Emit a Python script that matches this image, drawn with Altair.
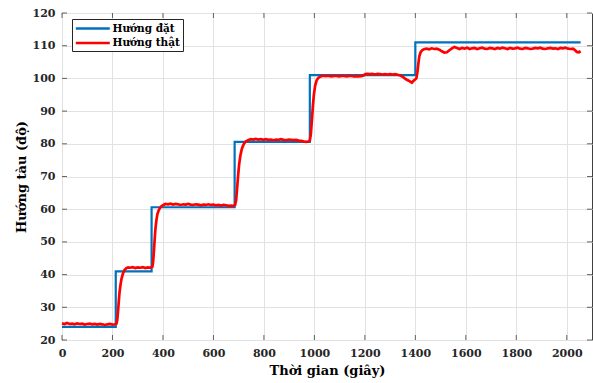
import altair as alt
import pandas as pd

# ---------------- data ----------------
X_TICKS = [0, 200, 400, 600, 800, 1000, 1200, 1400, 1600, 1800, 2000]
Y_TICKS = [20, 30, 40, 50, 60, 70, 80, 90, 100, 110, 120]

SERIES = ["Hướng đặt", "Hướng thật"]
COLORS = ["#0072BD", "#FF0000"]

# set-point heading (step signal)
SET_T = [0, 213, 355, 684, 982, 1400, 2055]
SET_V = [24.0, 41.0, 60.6, 80.6, 101.0, 111.0, 111.0]

# actual heading
ACT_T = [
    0, 10, 20, 30, 40, 50, 60, 70, 80, 90, 100, 110, 120, 130, 140, 150, 160, 170, 180, 190, 200, 210, 216,
    219, 222, 225, 228, 232, 236, 241, 247, 254, 262, 270, 280, 290, 300, 310, 320, 330, 340, 350, 358,
    361, 364, 367, 370, 374, 378, 384, 391, 400, 410, 420, 430, 440, 450, 460, 470, 480, 490, 500, 510,
    520, 530, 540, 550, 560, 570, 580, 590, 600, 610, 620, 630, 640, 650, 660, 670, 680, 686,
    690, 694, 698, 702, 707, 713, 720, 728, 737, 748, 758, 768, 778, 788, 798, 808, 818, 828, 838, 848,
    858, 868, 878, 888, 898, 908, 918, 928, 938, 948, 958, 968, 976, 982,
    986, 990, 994, 998, 1003, 1009, 1016, 1025, 1035, 1045, 1055, 1065, 1075, 1085, 1095, 1105, 1115,
    1125, 1135, 1145, 1155, 1165, 1175, 1185, 1195, 1202, 1210, 1220, 1230, 1240, 1250, 1260, 1270,
    1280, 1290, 1300, 1310, 1320, 1330, 1340, 1350, 1358, 1366, 1374, 1380, 1386, 1392, 1398, 1404,
    1408, 1412, 1416, 1421, 1428, 1436, 1445, 1455, 1465, 1475, 1485, 1495, 1505, 1515, 1525, 1535,
    1545, 1555, 1565, 1575, 1585, 1595, 1605, 1615, 1625, 1635, 1645, 1655, 1665, 1675, 1685, 1695,
    1705, 1715, 1725, 1735, 1745, 1755, 1765, 1775, 1785, 1795, 1805, 1815, 1825, 1835, 1845, 1855,
    1865, 1875, 1885, 1895, 1905, 1915, 1925, 1935, 1945, 1955, 1965, 1975, 1985, 1995, 2005, 2015,
    2025, 2032, 2040, 2048, 2055,
]
ACT_V = [
    25.1, 24.9, 25.2, 24.9, 25.0, 24.8, 25.1, 24.9, 25.0, 24.7, 24.9, 25.0, 24.8, 24.9, 24.7, 24.9, 24.8, 24.6, 24.8, 24.9, 24.7, 24.8, 25.0,
    26.2, 28.8, 31.8, 34.6, 37.0, 38.8, 40.2, 41.3, 41.9, 42.2, 42.1, 42.3, 42.0, 42.2, 42.1, 42.3, 42.0, 42.2, 42.1, 42.4,
    43.8, 47.0, 50.5, 53.8, 56.6, 58.5, 59.8, 60.7, 61.2, 61.6, 61.5, 61.7, 61.4, 61.6, 61.5, 61.3, 61.5, 61.4, 61.6, 61.4,
    61.3, 61.5, 61.4, 61.2, 61.4, 61.3, 61.5, 61.3, 61.4, 61.2, 61.3, 61.1, 61.3, 61.2, 61.0, 61.1, 61.0, 61.3,
    62.8, 66.5, 70.5, 73.8, 76.5, 78.6, 79.9, 80.7, 81.1, 81.4, 81.3, 81.5, 81.3, 81.4, 81.2, 81.4, 81.2, 81.3, 81.1, 81.3,
    81.2, 81.4, 81.2, 81.1, 81.3, 81.2, 81.1, 81.2, 81.0, 80.9, 80.7, 80.6, 80.7, 81.0,
    83.0, 87.0, 91.5, 95.0, 97.8, 99.4, 100.2, 100.6, 100.8, 100.7, 100.8, 100.6, 100.7, 100.8, 100.6, 100.7, 100.8,
    100.6, 100.7, 100.8, 100.6, 100.7, 100.6, 100.7, 100.9, 101.3, 101.4, 101.3, 101.4, 101.2, 101.4, 101.3, 101.2,
    101.3, 101.2, 101.3, 101.2, 101.3, 101.1, 100.9, 100.5, 100.0, 99.6, 99.3, 99.0, 98.7, 99.2, 99.6, 100.0,
    101.8, 104.5, 106.8, 108.0, 108.7, 109.0, 109.1, 108.9, 109.2, 109.0, 109.1, 108.8, 108.3, 107.9, 108.0, 108.6,
    109.2, 109.6, 109.3, 109.0, 109.3, 109.1, 109.4, 109.0, 109.2, 109.3, 109.0, 109.2, 109.4, 109.1, 109.0, 109.3,
    109.2, 109.0, 109.3, 109.1, 109.4, 109.2, 109.0, 109.3, 109.1, 109.2, 109.4, 109.1, 109.0, 109.3, 109.2, 109.0,
    109.1, 109.3, 109.2, 109.4, 109.1, 109.0, 109.2, 109.3, 109.1, 109.2, 109.0, 109.3, 109.2, 109.4, 109.1, 109.0,
    109.1, 108.7, 108.1, 108.0, 108.3,
]
assert len(ACT_T) == len(ACT_V)

FONT = "DejaVu Serif"
TXT = "#262626"

set_df = pd.DataFrame({"t": SET_T, "v": SET_V, "s": SERIES[0]})
act_df = pd.DataFrame({"t": ACT_T, "v": ACT_V, "s": SERIES[1]})
xt_df = pd.DataFrame({"t": X_TICKS})
yt_df = pd.DataFrame({"v": Y_TICKS})

x_scale = alt.Scale(domain=[0, 2100], nice=False, zero=False)
y_scale = alt.Scale(domain=[20, 120], nice=False, zero=False)

x_axis = alt.Axis(values=X_TICKS, title="Thời gian (giây)", format="d", grid=True,
                  ticks=False, tickSize=0, domain=False, labelPadding=7,
                  titlePadding=6, labelOverlap=False, labelFlush=False)
y_axis = alt.Axis(values=Y_TICKS, title="Hướng tàu (độ)", format="d", grid=True,
                  ticks=False, tickSize=0, domain=False, labelPadding=7,
                  titlePadding=4, labelOverlap=False, labelFlush=False)

legend = alt.Legend(title=None, orient="none", legendX=10, legendY=6,
                    direction="vertical", symbolType="M-1,0L5,0", symbolSize=128,
                    symbolStrokeWidth=2.5, labelFont=FONT, labelFontSize=10.5,
                    labelFontWeight="bold", labelColor="#000000", labelOffset=24,
                    padding=2.5, strokeColor="#262626", fillColor="white",
                    rowPadding=1.5, labelLimit=300, cornerRadius=0)

color = alt.Color("s:N", scale=alt.Scale(domain=SERIES, range=COLORS), legend=legend)


def X(field=None, datum=None):
    if datum is not None:
        return alt.X(datum=datum, type="quantitative", scale=x_scale, axis=x_axis)
    return alt.X(field, type="quantitative", scale=x_scale, axis=x_axis)


def Y(field=None, datum=None):
    if datum is not None:
        return alt.Y(datum=datum, type="quantitative", scale=y_scale, axis=y_axis)
    return alt.Y(field, type="quantitative", scale=y_scale, axis=y_axis)


blue = alt.Chart(set_df).mark_line(interpolate="step-after", strokeWidth=2.2).encode(
    x=X("t"), y=Y("v"), color=color,
)
red = alt.Chart(act_df).mark_line(strokeWidth=2.7).encode(
    x=X("t"), y=Y("v"), color=color
)

tick_style = dict(size=5, thickness=1, color=TXT)
xt_bottom = alt.Chart(xt_df).mark_tick(orient="vertical", yOffset=-2.5, **tick_style).encode(
    x=X("t"), y=Y(datum=20))
xt_top = alt.Chart(xt_df).mark_tick(orient="vertical", yOffset=2.5, **tick_style).encode(
    x=X("t"), y=Y(datum=120))
yt_left = alt.Chart(yt_df).mark_tick(orient="horizontal", xOffset=2.5, **tick_style).encode(
    y=Y("v"), x=X(datum=0))
yt_right = alt.Chart(yt_df).mark_tick(orient="horizontal", xOffset=-2.5, **tick_style).encode(
    y=Y("v"), x=X(datum=2100))

chart = alt.layer(blue, red, xt_bottom, xt_top, yt_left, yt_right).properties(
    width=530, height=327,
    padding={"left": 62, "top": 13, "right": 1, "bottom": 43},
    autosize=alt.AutoSizeParams(type="none"),
    background="white",
).configure_view(
    stroke="#404040", strokeWidth=1
).configure_axis(
    labelFont=FONT, labelFontSize=11, labelFontWeight="bold", labelColor=TXT,
    titleFont=FONT, titleFontSize=13, titleFontWeight="bold", titleColor="#000000",
    gridColor="#e2e2e2", gridWidth=1,
)

chart.save("out.html", embed_options={"renderer": "svg", "actions": False})
